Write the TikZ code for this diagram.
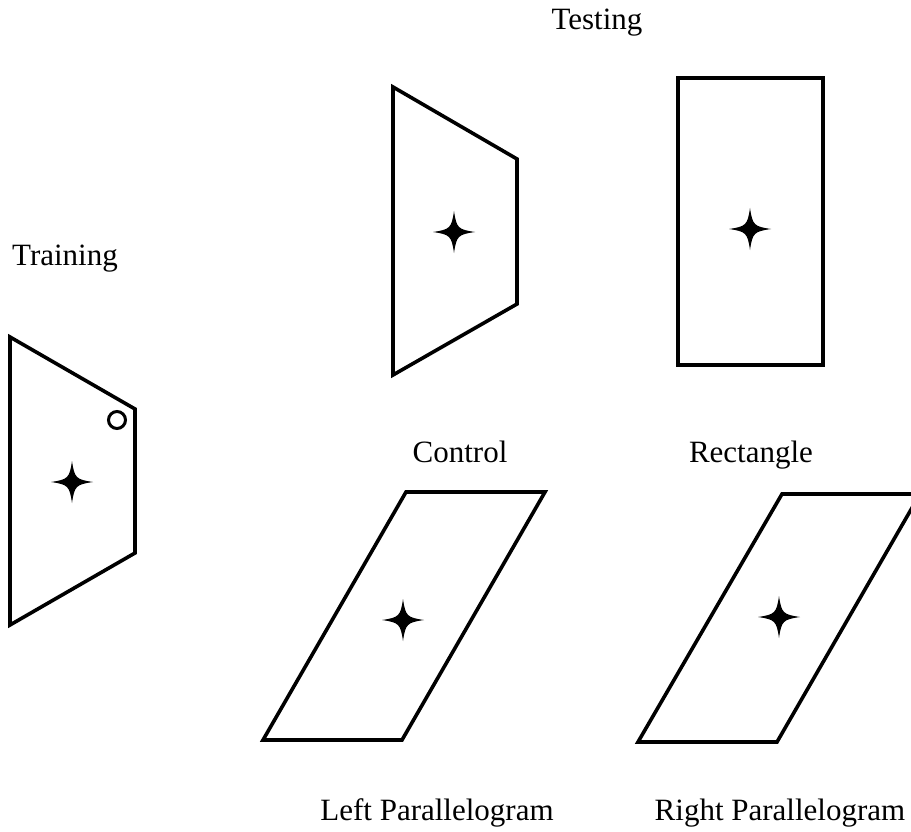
\documentclass[tikz,border=0pt]{standalone}
\usepackage{fontspec}
\setmainfont{Liberation Serif}
\begin{document}
\begin{tikzpicture}[x=1pt,y=-1pt,
  shapeline/.style={draw=black,line width=3.6pt,line join=miter},
  caption/.style={font=\fontsize{31}{36}\selectfont,inner sep=0pt,anchor=base},
  sparkle/.pic={\fill[black] (21,0) .. controls (4,2.5) and (2.5,4) .. (0,21)
      .. controls (-2.5,4) and (-4,2.5) .. (-21,0)
      .. controls (-4,-2.5) and (-2.5,-4) .. (0,-21)
      .. controls (2.5,-4) and (4,-2.5) .. cycle;}]
\useasboundingbox (0,0) rectangle (911,832);

% training trapezoid with marker circle
\draw[shapeline] (10,337) -- (135,409) -- (135,553) -- (10,625) -- cycle;
\draw[line width=3pt] (117,420) circle (8.5);
\pic at (72,482) {sparkle};

% control trapezoid
\draw[shapeline] (393,87) -- (517,159) -- (517,304) -- (393,375) -- cycle;
\pic at (454,232) {sparkle};

% rectangle
\draw[shapeline] (678,78) rectangle (823,365);
\pic at (750,229) {sparkle};

% left parallelogram
\draw[shapeline] (406,492) -- (545,492) -- (402,740) -- (263,740) -- cycle;
\pic at (403,620) {sparkle};

% right parallelogram
\draw[shapeline] (782,494) -- (920,494) -- (777,742) -- (638,742) -- cycle;
\pic at (779,617) {sparkle};

% captions
\node[caption] (testing) at (597,30) {Testing};
\node[caption] (training) at (65,265) {Training};
\node[caption] (control) at (460,462) {Control};
\node[caption] (rect) at (751,462) {Rectangle};
\node[caption] (leftpar) at (437,820) {Left Parallelogram};
\node[caption] (rightpar) at (780,820) {Right Parallelogram};
\end{tikzpicture}
\end{document}
